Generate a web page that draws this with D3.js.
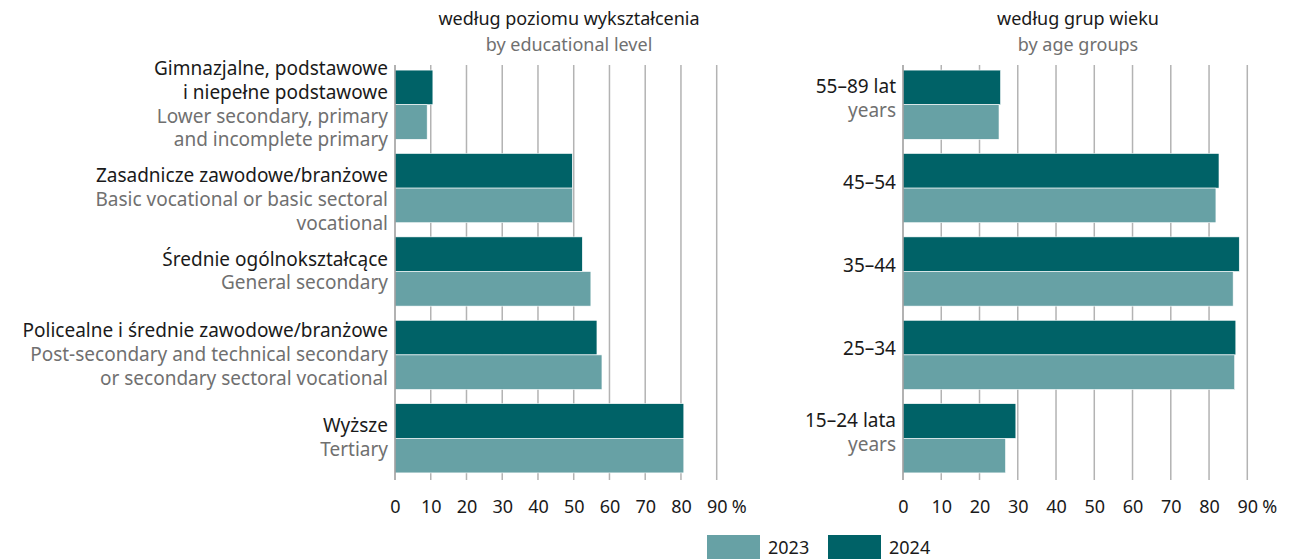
<!DOCTYPE html>
<html>
<head>
<meta charset="utf-8">
<script src="https://cdn.jsdelivr.net/npm/d3@7"></script>
<style>
  body { margin: 0; background: #fff; }
  svg { font-family: "Noto Sans", "Open Sans", sans-serif; }
</style>
</head>
<body>
<div id="chart"></div>
<script>
// Data
const years = ['2024', '2023'];
const ticks = [0, 10, 20, 30, 40, 50, 60, 70, 80, 90];

const eduPl = ['Gimnazjalne, podstawowe\ni niepełne podstawowe', 'Zasadnicze zawodowe/branżowe',
    'Średnie ogólnokształcące', 'Policealne i średnie zawodowe/branżowe', 'Wyższe'];
const eduEn = ['Lower secondary, primary\nand incomplete primary', 'Basic vocational or basic sectoral vocational',
    'General secondary', 'Post-secondary and technical secondary\nor secondary sectoral vocational', 'Tertiary'];
const edu2023 = [9.0, 49.7, 54.8, 57.9, 80.8];
const edu2024 = [10.6, 49.6, 52.4, 56.5, 80.8];

const agePl = ['55–89 lat', '45–54', '35–44', '25–34', '15–24 lata'];
const ageEn = ['years', '', '', '', 'years'];
const age2023 = [25.1, 81.8, 86.3, 86.7, 26.8];
const age2024 = [25.5, 82.6, 87.9, 87.0, 29.5];

const colors = { '2023': '#67a1a5', '2024': '#006267' };

const W = 1293, H = 559;
const svg = d3.select('#chart').append('svg').attr('width', W).attr('height', H);

const lineH = 23.7;
const fs = 19;       // category labels
const fsTitle = 18;  // panel titles
const fsTick = 18;   // axis numbers and legend

function wrapLines(text, maxW) {
    // explicit breaks first, then wrap words that overflow
    const probe = svg.append('text').attr('font-size', fs);
    const out = [];
    text.split('\n').forEach(para => {
        let cur = '';
        para.split(' ').forEach(w => {
            const test = cur ? cur + ' ' + w : w;
            probe.text(test);
            if (cur && probe.node().getComputedTextLength() > maxW) {
                out.push({ t: cur, wrapped: false });
                cur = w;
            } else cur = test;
        });
        out.push({ t: cur });
    });
    probe.remove();
    return out;
}

function panel(opts) {
    const x = d3.scaleLinear().domain([0, 90]).range([opts.x0, opts.x1]);
    const y = d3.scaleBand().domain(d3.range(opts.pl.length)).range([63, 480])
        .paddingInner(0.17).paddingOuter(0.085);
    const ySub = d3.scaleBand().domain(years).range([0, y.bandwidth()]);

    const g = svg.append('g');

    // gridlines
    g.selectAll('line.grid').data(ticks.slice(1)).enter().append('line')
        .attr('x1', d => x(d)).attr('x2', d => x(d))
        .attr('y1', 65).attr('y2', 480)
        .attr('stroke', '#b3b3b3').attr('stroke-width', 1.5);

    // bars
    const rows = opts.pl.map((p, i) => ({ i, '2023': opts.v2023[i], '2024': opts.v2024[i] }));
    const row = g.selectAll('g.row').data(rows).enter().append('g')
        .attr('transform', d => `translate(0,${y(d.i)})`);
    row.selectAll('rect').data(d => years.map(k => ({ k, v: d[k] }))).enter().append('rect')
        .attr('x', x(0))
        .attr('y', d => ySub(d.k))
        .attr('width', d => x(d.v) - x(0))
        .attr('height', ySub.bandwidth())
        .attr('fill', d => colors[d.k])
        .attr('stroke', '#ffffff').attr('stroke-width', 0.6);

    // left axis line
    g.append('line').attr('x1', x(0)).attr('x2', x(0)).attr('y1', 65).attr('y2', 480)
        .attr('stroke', '#999').attr('stroke-width', 1.5);

    // bottom axis labels
    const axis = d3.axisBottom(x).tickValues(ticks).tickSize(0).tickPadding(0);
    const ax = g.append('g').attr('transform', 'translate(0,513)').call(axis);
    ax.select('.domain').remove();
    ax.selectAll('text').attr('y', 0).attr('dy', 0).attr('font-size', fsTick).attr('fill', '#1a1a1a')
        .attr('font-family', '"Noto Sans", sans-serif');
    g.append('text').attr('x', x(90) + 15).attr('y', 513)
        .attr('font-size', fsTick).attr('fill', '#1a1a1a').text('%');

    // category labels
    opts.pl.forEach((p, i) => {
        const plLines = wrapLines(p, 380).map(l => ({ ...l, c: '#1a1a1a' }));
        const enLines = opts.en[i] ? wrapLines(opts.en[i], 380).map(l => ({ ...l, c: '#707070' })) : [];
        const lines = plLines.concat(enLines);
        const nCenter = lines.filter(l => l.wrapped !== false).length;
        const cy = y(i) + y.bandwidth() / 2;
        const first = cy - (nCenter - 1) / 2 * lineH + opts.dy;
        const t = g.append('text').attr('text-anchor', 'end').attr('font-size', fs);
        lines.forEach((l, j) => {
            t.append('tspan').attr('x', x(0) - 7).attr('y', first + j * lineH)
                .attr('fill', l.c).text(l.t);
        });
    });

    // titles
    svg.append('text').attr('x', opts.tx).attr('y', 25).attr('text-anchor', 'middle')
        .attr('font-size', fsTitle).attr('fill', '#1a1a1a').text(opts.title);
    svg.append('text').attr('x', opts.tx).attr('y', 51).attr('text-anchor', 'middle')
        .attr('font-size', fsTitle).attr('fill', '#707070').text(opts.subtitle);
}

panel({ x0: 395, x1: 716.7, pl: eduPl, en: eduEn, v2023: edu2023, v2024: edu2024, dy: 6,
    tx: 569, title: 'według poziomu wykształcenia', subtitle: 'by educational level' });
panel({ x0: 903, x1: 1247.3, pl: agePl, en: ageEn, v2023: age2023, v2024: age2024, dy: 0.5,
    tx: 1078, title: 'według grup wieku', subtitle: 'by age groups' });

// legend
const legend = svg.append('g').attr('transform', 'translate(707,535)');
['2023', '2024'].forEach((k, i) => {
    const lg = legend.append('g').attr('transform', `translate(${i * 121},0)`);
    lg.append('rect').attr('width', 53).attr('height', 24).attr('fill', colors[k]);
    lg.append('text').attr('x', 61).attr('y', 19).attr('font-size', fsTick).attr('fill', '#1a1a1a').text(k);
});
</script>
</body>
</html>
